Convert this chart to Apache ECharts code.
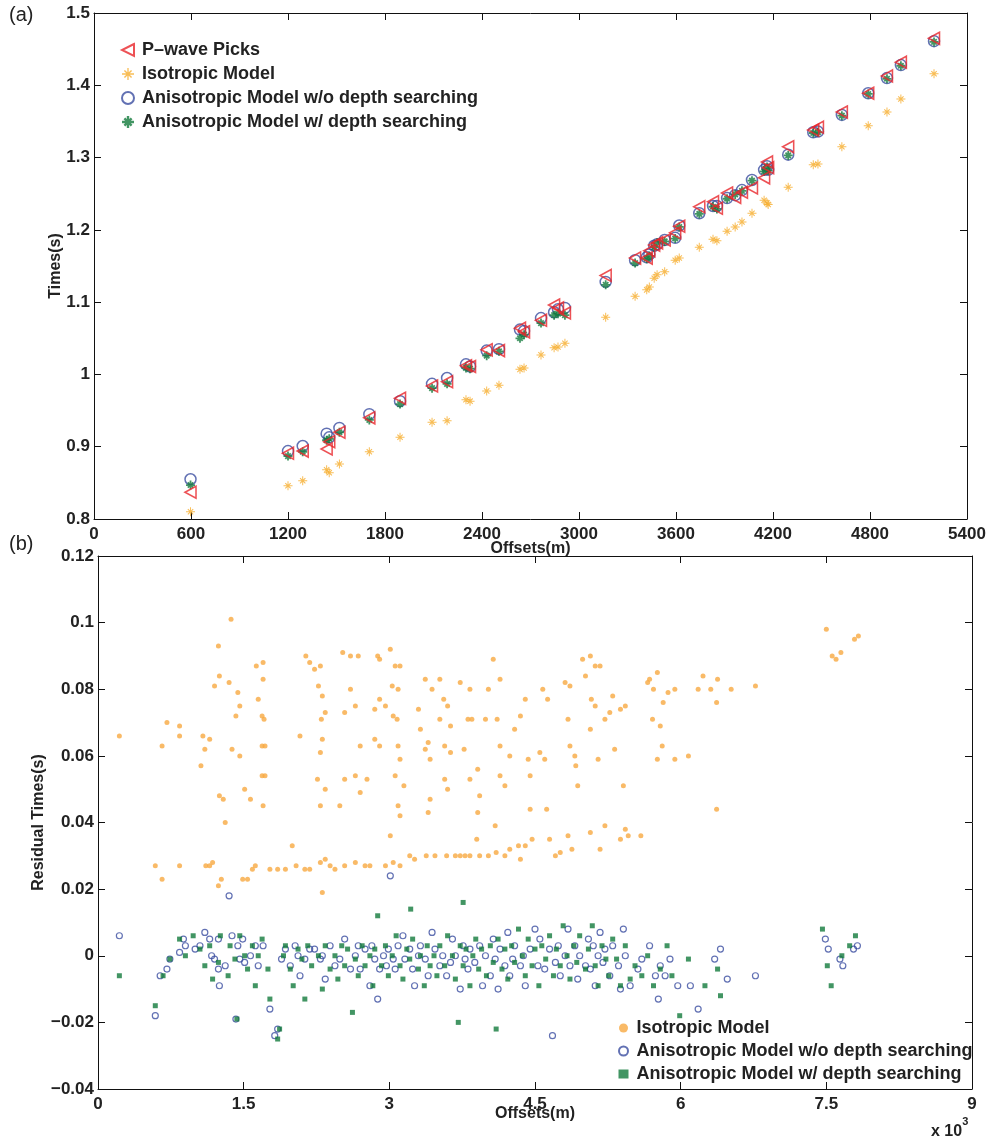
<!DOCTYPE html>
<html>
<head>
<meta charset="utf-8">
<script src="https://cdn.jsdelivr.net/npm/echarts@6/dist/echarts.min.js"></script>
<style>
  html, body { margin: 0; padding: 0; background: #fff; }
  #chart { width: 989px; height: 1138px; }
</style>
</head>
<body>
<div id="chart"></div>
<script>
// ---- panel (a): travel times vs offset ----
const offsetsA = [597, 1200, 1291, 1439, 1455, 1518, 1703, 1893, 2091, 2184, 2301, 2326, 2429, 2505,
  2635, 2660, 2765, 2846, 2870, 2913, 3165, 3347, 3419, 3435, 3465, 3483, 3530, 3595, 3620, 3744,
  3829, 3853, 3916, 3966, 4008, 4070, 4145, 4163, 4170, 4294, 4449, 4478, 4626, 4789, 4905, 4991, 5196];
const picksA = [0.837, 0.891, 0.894, 0.897, 0.907, 0.920, 0.940, 0.967, 0.984, 0.990, 1.012, 1.011,
  1.034, 1.033, 1.064, 1.059, 1.075, 1.096, 1.092, 1.085, 1.137, 1.161, 1.161, 1.171, 1.179, 1.182,
  1.186, 1.196, 1.205, 1.232, 1.239, 1.230, 1.251, 1.245, 1.252, 1.258, 1.272, 1.294, 1.286, 1.315,
  1.338, 1.342, 1.363, 1.389, 1.413, 1.432, 1.465];
const isoA = [0.810, 0.846, 0.853, 0.868, 0.864, 0.876, 0.893, 0.913, 0.934, 0.936, 0.965, 0.963,
  0.977, 0.985, 1.007, 1.009, 1.027, 1.037, 1.038, 1.043, 1.079, 1.108, 1.117, 1.121, 1.133, 1.138,
  1.142, 1.158, 1.161, 1.176, 1.187, 1.185, 1.198, 1.204, 1.211, 1.223, 1.241, 1.237, 1.235, 1.259,
  1.290, 1.291, 1.315, 1.344, 1.363, 1.381, 1.416];
const anisoA = [0.855, 0.894, 0.901, 0.918, 0.913, 0.926, 0.945, 0.963, 0.987, 0.995, 1.014, 1.011,
  1.033, 1.035, 1.062, 1.060, 1.078, 1.086, 1.090, 1.092, 1.128, 1.158, 1.162, 1.166, 1.178, 1.180,
  1.186, 1.189, 1.206, 1.223, 1.233, 1.233, 1.244, 1.248, 1.255, 1.269, 1.283, 1.288, 1.283, 1.304,
  1.335, 1.336, 1.359, 1.389, 1.410, 1.428, 1.461];
const anisoDepthA = [0.847, 0.887, 0.893, 0.909, 0.911, 0.920, 0.937, 0.959, 0.981, 0.987, 1.009, 1.008,
  1.026, 1.032, 1.050, 1.055, 1.071, 1.082, 1.084, 1.082, 1.124, 1.154, 1.160, 1.164, 1.176, 1.182,
  1.184, 1.188, 1.204, 1.222, 1.232, 1.229, 1.243, 1.249, 1.254, 1.268, 1.281, 1.287, 1.282, 1.303,
  1.334, 1.335, 1.358, 1.388, 1.409, 1.427, 1.460];

// ---- panel (b): residuals, [offset (x10^3 m), residual (s)] ----
const isoResid = [
  [0.22,0.066],[0.59,0.027],[0.66,0.063],[0.66,0.023],[0.71,0.070],[0.84,0.069],[0.84,0.066],[0.84,0.027],
  [1.08,0.066],[1.10,0.062],[1.15,0.065],[1.06,0.057],[1.20,0.081],[1.25,0.084],[1.24,0.093],[1.37,0.101],
  [1.25,0.048],[1.29,0.047],[1.31,0.040],[1.18,0.028],[1.11,0.027],[1.15,0.027],[1.24,0.021],[1.27,0.023],
  [1.35,0.082],[1.44,0.079],[1.46,0.075],[1.42,0.072],[1.38,0.062],[1.46,0.060],[1.51,0.050],[1.57,0.047],
  [1.49,0.023],[1.54,0.023],[1.63,0.087],[1.70,0.088],[1.70,0.083],[1.65,0.077],[1.69,0.072],[1.71,0.071],
  [1.69,0.063],[1.72,0.063],[1.69,0.054],[1.72,0.054],[1.70,0.045],[1.59,0.026],[1.62,0.027],[1.77,0.026],
  [1.85,0.026],[1.93,0.026],[2.00,0.033],[2.14,0.090],[2.18,0.088],[2.23,0.086],[2.29,0.087],[2.27,0.081],
  [2.31,0.078],[2.34,0.073],[2.30,0.071],[2.31,0.065],[2.29,0.061],[2.08,0.066],[2.26,0.053],[2.34,0.050],
  [2.29,0.045],[2.29,0.028],[2.34,0.029],[2.39,0.027],[2.44,0.026],[2.04,0.027],[2.13,0.026],[2.18,0.026],
  [2.31,0.019],[2.49,0.045],[2.54,0.073],[2.60,0.080],[2.65,0.075],[2.60,0.090],[2.52,0.091],[2.68,0.090],
  [2.54,0.053],[2.65,0.054],[2.70,0.049],[2.77,0.053],[2.54,0.027],[2.65,0.028],[2.75,0.027],[2.80,0.027],
  [2.70,0.063],[2.85,0.065],[2.90,0.063],[2.85,0.074],[2.90,0.077],[2.96,0.075],[2.90,0.089],[2.88,0.090],
  [2.96,0.027],[3.01,0.036],[3.01,0.092],[3.06,0.087],[3.11,0.087],[3.03,0.081],[3.09,0.080],[3.04,0.072],
  [3.08,0.071],[3.09,0.063],[3.11,0.059],[3.06,0.054],[3.15,0.051],[3.09,0.045],[3.11,0.042],[3.04,0.028],
  [3.11,0.027],[3.21,0.030],[3.26,0.029],[3.30,0.074],[3.32,0.068],[3.40,0.064],[3.37,0.083],[3.44,0.080],
  [3.37,0.062],[3.42,0.059],[3.42,0.047],[3.40,0.043],[3.38,0.030],[3.47,0.030],[3.52,0.083],[3.56,0.077],
  [3.60,0.075],[3.52,0.071],[3.63,0.069],[3.57,0.063],[3.63,0.061],[3.57,0.053],[3.60,0.050],[3.59,0.030],
  [3.68,0.030],[3.73,0.030],[3.78,0.030],[3.83,0.030],[3.73,0.082],[3.81,0.071],[3.77,0.062],[3.83,0.080],
  [3.85,0.071],[3.83,0.053],[3.91,0.056],[3.93,0.048],[3.91,0.043],[3.90,0.035],[4.02,0.080],[3.99,0.071],
  [3.93,0.030],[4.02,0.030],[4.07,0.089],[4.14,0.083],[4.11,0.071],[4.14,0.063],[4.14,0.054],[4.19,0.051],
  [4.10,0.031],[4.19,0.030],[4.24,0.032],[4.33,0.033],[4.35,0.029],[4.24,0.060],[4.29,0.068],[4.40,0.077],
  [4.35,0.072],[4.43,0.059],[4.45,0.054],[4.47,0.035],[4.40,0.033],[4.09,0.039],[4.45,0.044],[4.55,0.061],
  [4.60,0.059],[4.58,0.080],[4.63,0.077],[4.62,0.044],[4.65,0.035],[4.71,0.030],[4.76,0.031],[4.81,0.082],
  [4.86,0.081],[4.84,0.071],[4.86,0.063],[4.91,0.060],[4.92,0.057],[4.84,0.036],[4.88,0.032],[4.99,0.089],
  [5.02,0.084],[4.94,0.051],[5.07,0.090],[5.12,0.087],[5.17,0.087],[5.08,0.077],[5.12,0.075],[5.07,0.068],
  [5.15,0.059],[5.22,0.071],[5.27,0.073],[5.07,0.037],[5.17,0.032],[5.22,0.039],[5.30,0.078],[5.32,0.062],
  [5.38,0.074],[5.43,0.075],[5.41,0.051],[5.38,0.035],[5.43,0.038],[5.46,0.036],[5.59,0.036],[5.66,0.082],
  [5.68,0.083],[5.76,0.085],[5.72,0.080],[5.71,0.071],[5.79,0.069],[5.82,0.076],[5.76,0.059],[5.81,0.063],
  [5.87,0.079],[5.94,0.080],[5.94,0.059],[6.08,0.060],[6.18,0.080],[6.23,0.084],[6.38,0.083],[6.31,0.080],
  [6.37,0.076],[6.37,0.044],[6.52,0.080],[6.77,0.081],[7.50,0.098],[7.56,0.090],[7.60,0.089],[7.65,0.091],
  [7.79,0.095],[7.83,0.096]
];
const anisoResid = [
  [0.22,0.006],[0.59,-0.018],[0.64,-0.006],[0.71,-0.004],[0.74,-0.001],[0.84,0.001],[0.88,0.005],[0.90,0.003],
  [1.00,0.002],[1.05,0.003],[1.10,0.007],[1.15,0.005],[1.17,0.000],[1.20,-0.001],[1.24,0.005],[1.24,-0.004],
  [1.25,-0.009],[1.31,-0.003],[1.35,0.018],[1.38,0.006],[1.42,-0.019],[1.44,0.003],[1.46,-0.001],[1.49,0.005],
  [1.51,-0.002],[1.57,0.000],[1.62,0.003],[1.65,-0.003],[1.70,0.003],[1.77,-0.016],[1.82,-0.024],[1.85,-0.022],
  [1.89,-0.001],[1.93,0.002],[1.98,-0.003],[2.03,0.003],[2.06,0.000],[2.08,-0.006],[2.13,-0.001],[2.18,0.002],
  [2.23,0.002],[2.29,-0.001],[2.31,0.000],[2.34,-0.007],[2.39,0.003],[2.44,-0.003],[2.49,-0.001],[2.54,0.005],
  [2.60,-0.004],[2.65,0.000],[2.68,0.003],[2.70,-0.004],[2.75,0.002],[2.80,-0.009],[2.82,0.003],[2.85,-0.001],
  [2.88,-0.013],[2.90,-0.004],[2.94,0.000],[2.97,-0.003],[2.99,0.002],[3.01,0.024],[3.04,-0.001],[3.06,-0.004],
  [3.09,0.003],[3.14,0.006],[3.16,-0.001],[3.21,0.002],[3.24,-0.004],[3.26,-0.009],[3.30,0.000],[3.32,0.003],
  [3.37,-0.001],[3.40,-0.006],[3.44,0.007],[3.47,0.002],[3.52,-0.003],[3.55,0.000],[3.59,-0.006],[3.63,-0.002],
  [3.65,0.005],[3.68,0.000],[3.73,-0.010],[3.76,0.003],[3.78,-0.001],[3.81,-0.004],[3.83,0.002],[3.88,-0.002],
  [3.93,0.003],[3.96,-0.009],[3.99,0.000],[4.04,-0.006],[4.07,0.005],[4.09,-0.001],[4.12,-0.010],[4.14,0.002],
  [4.19,-0.003],[4.22,0.007],[4.24,-0.006],[4.27,-0.001],[4.29,0.003],[4.35,-0.003],[4.38,0.000],[4.40,-0.009],
  [4.45,0.002],[4.50,0.008],[4.53,-0.003],[4.55,0.005],[4.60,-0.004],[4.65,0.002],[4.68,-0.024],[4.71,-0.002],
  [4.74,0.003],[4.76,-0.006],[4.81,0.000],[4.84,0.008],[4.86,-0.003],[4.91,0.003],[4.94,-0.007],[4.96,0.000],
  [5.02,-0.003],[5.05,0.005],[5.07,-0.004],[5.10,0.003],[5.12,-0.009],[5.15,0.000],[5.17,0.007],[5.20,-0.002],
  [5.22,0.002],[5.27,-0.006],[5.30,0.003],[5.36,-0.003],[5.38,-0.010],[5.41,0.008],[5.43,0.000],[5.48,-0.009],
  [5.56,-0.004],[5.60,-0.001],[5.68,0.003],[5.74,-0.006],[5.77,-0.013],[5.79,-0.003],[5.84,-0.006],[5.89,-0.001],
  [5.97,-0.009],[6.10,-0.009],[6.18,-0.016],[6.35,-0.001],[6.41,0.002],[6.48,-0.007],[6.77,-0.006],[7.49,0.005],
  [7.52,0.002],[7.64,-0.001],[7.67,-0.003],[7.78,0.002],[7.82,0.003]
];
const anisoDepthResid = [
  [0.22,-0.006],[0.59,-0.015],[0.67,-0.006],[0.74,-0.001],[0.84,0.005],[0.90,0.000],[0.98,0.006],[1.05,0.002],
  [1.10,-0.003],[1.15,0.003],[1.18,-0.007],[1.24,-0.002],[1.26,0.006],[1.34,-0.006],[1.36,0.003],[1.41,-0.001],
  [1.43,-0.019],[1.46,0.006],[1.51,0.000],[1.54,-0.004],[1.59,0.003],[1.62,-0.009],[1.65,0.000],[1.69,0.005],
  [1.75,-0.004],[1.77,-0.013],[1.85,-0.025],[1.87,-0.022],[1.91,0.000],[1.93,0.003],[1.98,-0.004],[2.01,-0.009],
  [2.06,0.002],[2.10,-0.001],[2.13,-0.013],[2.16,0.003],[2.20,-0.003],[2.27,0.000],[2.31,-0.010],[2.34,0.003],
  [2.39,-0.004],[2.44,0.000],[2.47,-0.007],[2.51,0.003],[2.54,-0.003],[2.57,0.002],[2.62,-0.017],[2.65,-0.001],
  [2.68,-0.006],[2.72,0.003],[2.75,-0.003],[2.80,0.000],[2.83,-0.009],[2.85,0.002],[2.88,0.012],[2.92,-0.003],
  [2.96,0.003],[2.99,-0.006],[3.03,0.000],[3.07,0.006],[3.11,-0.003],[3.14,-0.007],[3.18,0.002],[3.21,-0.001],
  [3.22,0.014],[3.24,0.005],[3.30,-0.004],[3.32,0.000],[3.36,-0.009],[3.39,0.003],[3.42,-0.003],[3.46,0.000],
  [3.49,-0.006],[3.52,0.003],[3.57,-0.003],[3.60,0.006],[3.65,0.000],[3.68,-0.007],[3.71,-0.020],[3.73,0.003],
  [3.76,-0.003],[3.76,0.016],[3.79,0.002],[3.83,-0.009],[3.86,0.000],[3.89,0.005],[3.92,-0.004],[3.95,0.002],
  [4.00,-0.006],[4.04,0.003],[4.07,-0.002],[4.10,-0.022],[4.12,0.005],[4.16,-0.004],[4.19,0.002],[4.22,-0.007],
  [4.26,0.003],[4.29,-0.002],[4.33,0.008],[4.37,0.000],[4.40,-0.006],[4.43,0.005],[4.47,-0.003],[4.50,0.002],
  [4.54,-0.009],[4.57,0.003],[4.61,-0.001],[4.65,0.006],[4.69,-0.006],[4.72,0.002],[4.76,-0.003],[4.79,0.009],
  [4.83,0.000],[4.86,-0.007],[4.90,0.003],[4.93,-0.002],[4.96,0.006],[5.02,-0.004],[5.05,0.002],[5.09,0.009],
  [5.12,-0.003],[5.15,-0.009],[5.19,0.003],[5.23,-0.001],[5.26,-0.006],[5.30,0.005],[5.34,-0.001],[5.38,-0.009],
  [5.43,0.003],[5.48,-0.007],[5.53,-0.003],[5.60,-0.006],[5.66,0.000],[5.72,-0.009],[5.79,-0.004],[5.86,0.003],
  [5.91,-0.006],[5.99,-0.018],[6.08,-0.001],[6.25,-0.009],[6.38,-0.004],[6.41,-0.012],[7.46,0.008],[7.51,-0.003],
  [7.55,-0.009],[7.66,0.000],[7.74,0.003],[7.80,0.006]
];

const FONT = '"Liberation Sans", Arial, sans-serif';
const INK = '#222';
const RED = '#e8262b', ORANGE = '#f6ad2c', BLUE = '#3b4ea0', GREEN = '#137a3c';
const ORANGE_B = '#f7a941';

// 8-arm asterisks (vertical, horizontal, two diagonals)
const STAR = 'path://M4.45 0L5.55 0L5.55 10L4.45 10Z M0 4.45L10 4.45L10 5.55L0 5.55Z ' +
  'M1.61 2.45L2.45 1.61L8.39 7.55L7.55 8.39Z M7.55 1.61L8.39 2.45L2.45 8.39L1.61 7.55Z';
const STAR_FAT = 'path://M4.0 0L6.0 0L6.0 10L4.0 10Z M0 4.0L10 4.0L10 6.0L0 6.0Z ' +
  'M1.3 2.7L2.7 1.3L8.7 7.3L7.3 8.7Z M7.3 1.3L8.7 2.7L2.7 8.7L1.3 7.3Z';
const LEFT_TRI = 'path://M10 0L0 5L10 10Z';

const tickLabel = { fontFamily: FONT, fontWeight: 'bold', fontSize: 17, color: INK };
const line = { show: true, onZero: false, lineStyle: { color: '#111', width: 1 } };
const tick = { show: true, inside: true, length: 7, lineStyle: { color: '#111' } };
const plain = v => String(+v.toFixed(3)).replace('-', '\u2212');

function xAx(grid, min, max, interval, pos, labels, extra) {
  return Object.assign({
    type: 'value', gridIndex: grid, position: pos, min, max, interval,
    axisLine: line, axisTick: tick, splitLine: { show: false },
    axisLabel: labels ? Object.assign({ margin: 7, formatter: plain }, tickLabel) : { show: false }
  }, extra || {});
}
function yAx(grid, min, max, interval, pos, labels, extra) {
  return Object.assign({
    type: 'value', gridIndex: grid, position: pos, min, max, interval,
    axisLine: line, axisTick: tick, splitLine: { show: false },
    axisLabel: labels ? Object.assign({ margin: 4, formatter: plain }, tickLabel) : { show: false }
  }, extra || {});
}

const nameStyle = { fontFamily: FONT, fontWeight: 'bold', fontSize: 16, color: INK };
const axName = (name, gap) => ({
  name, nameLocation: 'middle', nameGap: gap, nameMoveOverlap: false, nameTextStyle: nameStyle
});
const legendText = { fontFamily: FONT, fontWeight: 'bold', fontSize: 18, color: INK, padding: [0, 0, 0, 3] };

const chart = echarts.init(document.getElementById('chart'), null, { renderer: 'canvas' });

const pair = (ys) => offsetsA.map((x, i) => [x, ys[i]]);

chart.setOption({
  animation: false,
  backgroundColor: '#fff',
  grid: [
    { left: 94, top: 13, width: 873, height: 506 },
    { left: 98, top: 556, width: 874, height: 533 }
  ],
  xAxis: [
    xAx(0, 0, 5400, 600, 'bottom', true, axName('Offsets(m)', 22)),
    xAx(0, 0, 5400, 600, 'top', false),
    xAx(1, 0, 9, 1.5, 'bottom', true, axName('Offsets(m)', 17)),
    xAx(1, 0, 9, 1.5, 'top', false)
  ],
  yAxis: [
    yAx(0, 0.8, 1.5, 0.1, 'left', true, axName('Times(s)', 30)),
    yAx(0, 0.8, 1.5, 0.1, 'right', false),
    yAx(1, -0.04, 0.12, 0.02, 'left', true, axName('Residual Times(s)', 51)),
    yAx(1, -0.04, 0.12, 0.02, 'right', false)
  ],
  legend: [
    {
      left: 116, top: 36, orient: 'vertical', itemGap: 6, itemWidth: 12, itemHeight: 12,
      textStyle: legendText,
      data: [
        { name: 'P\u2013wave Picks', icon: LEFT_TRI },
        'Isotropic Model', 'Anisotropic Model w/o depth searching', 'Anisotropic Model w/ depth searching'
      ]
    },
    {
      left: 613, top: 1014, orient: 'vertical', itemGap: 5, itemWidth: 10, itemHeight: 9,
      textStyle: legendText,
      formatter: n => n.replace(' (b)', ''),
      data: ['Isotropic Model (b)', 'Anisotropic Model w/o depth searching (b)', 'Anisotropic Model w/ depth searching (b)']
    }
  ],
  graphic: [
    { type: 'text', left: 9, top: 5, style: { text: '(a)', font: '20px ' + FONT, fill: INK } },
    { type: 'text', left: 9, top: 534, style: { text: '(b)', font: '20px ' + FONT, fill: INK } },
    {
      type: 'text', left: 931, top: 1116,
      style: {
        text: '{b|x 10}{s|3}',
        rich: {
          b: { font: 'bold 16px ' + FONT, fill: INK, padding: [8, 0, 0, 0] },
          s: { font: 'bold 11px ' + FONT, fill: INK, verticalAlign: 'top' }
        }
      }
    }
  ],
  series: [
    {
      name: 'Isotropic Model', type: 'scatter', xAxisIndex: 0, yAxisIndex: 0,
      symbol: STAR, symbolSize: 9, itemStyle: { color: ORANGE }, data: pair(isoA), z: 2
    },
    {
      name: 'Anisotropic Model w/o depth searching', type: 'scatter', xAxisIndex: 0, yAxisIndex: 0,
      symbol: 'circle', symbolSize: 11,
      itemStyle: { color: 'rgba(0,0,0,0)', borderColor: BLUE, borderWidth: 1.5 }, data: pair(anisoA), z: 3
    },
    {
      name: 'Anisotropic Model w/ depth searching', type: 'scatter', xAxisIndex: 0, yAxisIndex: 0,
      symbol: STAR_FAT, symbolSize: 9, itemStyle: { color: GREEN }, data: pair(anisoDepthA), z: 4
    },
    {
      name: 'P\u2013wave Picks', type: 'scatter', xAxisIndex: 0, yAxisIndex: 0,
      symbol: LEFT_TRI, symbolSize: [11, 12],
      itemStyle: { color: 'rgba(0,0,0,0)', borderColor: RED, borderWidth: 1.6 }, data: pair(picksA), z: 5
    },
    {
      name: 'Isotropic Model (b)', type: 'scatter', xAxisIndex: 2, yAxisIndex: 2,
      symbol: 'circle', symbolSize: 5, itemStyle: { color: ORANGE_B }, data: isoResid, z: 2
    },
    {
      name: 'Anisotropic Model w/o depth searching (b)', type: 'scatter', xAxisIndex: 2, yAxisIndex: 2,
      symbol: 'circle', symbolSize: 6,
      itemStyle: { color: 'rgba(0,0,0,0)', borderColor: BLUE, borderWidth: 1.2 }, data: anisoResid, z: 3
    },
    {
      name: 'Anisotropic Model w/ depth searching (b)', type: 'scatter', xAxisIndex: 2, yAxisIndex: 2,
      symbol: 'rect', symbolSize: 5, itemStyle: { color: GREEN }, data: anisoDepthResid, z: 4
    }
  ]
});
</script>
</body>
</html>
